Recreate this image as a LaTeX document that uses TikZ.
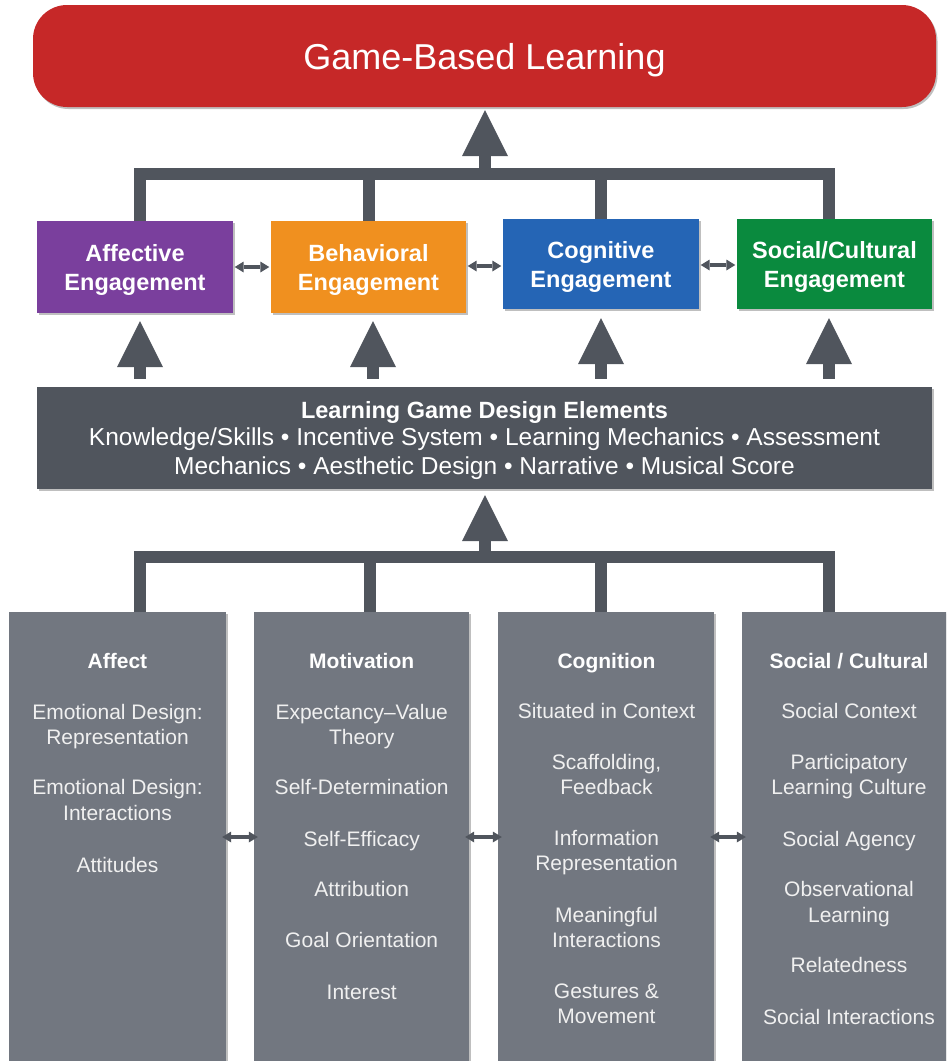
\documentclass[tikz,border=0pt]{standalone}
\usepackage{fontspec}
\setmainfont{Liberation Sans}
\usetikzlibrary{arrows.meta,shadows}
\definecolor{gblred}{HTML}{C62828}
\definecolor{affpurple}{HTML}{7A3F9D}
\definecolor{behorange}{HTML}{F0901F}
\definecolor{cogblue}{HTML}{2565B5}
\definecolor{socgreen}{HTML}{0A8A3E}
\definecolor{darkgray}{HTML}{50555D}
\definecolor{colgray}{HTML}{727780}
\definecolor{lighttxt}{HTML}{F0F0F0}
\begin{document}
\begin{tikzpicture}[x=1pt,y=-1pt,
  shad/.style={drop shadow={shadow xshift=1.5pt,shadow yshift=-2pt,opacity=0.25,fill=black}},
  engbox/.style={shad, minimum width=196pt, minimum height=92pt, inner sep=0pt, align=center, text=white, text depth=0pt, font=\bfseries\fontsize{23.5}{29}\selectfont},
  colbox/.style={shad, fill=colgray, minimum height=463pt, inner sep=0pt},
  conn/.style={draw=darkgray, line width=12pt, line join=miter, line cap=butt},
  uparrow/.style={draw=darkgray, line width=12pt, line cap=butt, -{Triangle[width=46pt,length=46pt,line width=0pt]}},
  dblarrow/.style={draw=darkgray, line width=4pt, {Triangle[width=11pt,length=9pt,line width=0pt]}-{Triangle[width=11pt,length=9pt,line width=0pt]}},
  hdr/.style={anchor=base, text=white, font=\bfseries\fontsize{21}{25}\selectfont, inner sep=0pt},
  itm/.style={anchor=base, text=lighttxt, font=\fontsize{21}{25}\selectfont, inner sep=0pt},
]
\useasboundingbox (0,0) rectangle (946,1061);
\clip (0,0) rectangle (946,1061);

% top box
\node[fill=gblred, rounded corners=34pt, minimum width=903pt, minimum height=102pt, shad, text=white, text depth=0pt, font=\fontsize{36}{40}\selectfont] (gbl) at (484.5,56) {Game-Based Learning};

% engagement boxes
\node[engbox, fill=affpurple] (aff) at (135,267) {Affective\\Engagement};
\node[engbox, fill=behorange, minimum width=195pt] (beh) at (368.5,267) {Behavioral\\Engagement};
\node[engbox, fill=cogblue, minimum height=90pt] (cog) at (601,264) {Cognitive\\Engagement};
\node[engbox, fill=socgreen, minimum width=195pt, minimum height=90pt] (soc) at (834.5,264) {Social/Cultural\\Engagement};

% design elements
\node[shad, fill=darkgray, minimum width=895pt, minimum height=102pt, inner sep=0pt, align=center, text=white, text depth=0pt, font=\fontsize{24.5}{29}\selectfont] (lgde) at (484.5,438)
  {{\bfseries\fontsize{23.5}{27}\selectfont Learning Game Design Elements}\\[-2pt]
   Knowledge/Skills • Incentive System • Learning Mechanics • Assessment\\
   Mechanics • Aesthetic Design • Narrative • Musical Score};

% bottom columns
\node[colbox, minimum width=217pt] (bxaff) at (117.5,843.5) {};
\node[colbox, minimum width=215pt] (bxmot) at (361.5,843.5) {};
\node[colbox, minimum width=216pt] (bxcog) at (606,843.5) {};
\node[colbox, minimum width=216pt] (bxsoc) at (850,843.5) {};

% top bar
\coordinate (tb) at (485,173.5);
\coordinate (affT) at ([xshift=5pt]aff.north);
\coordinate (behT) at ([xshift=0.5pt]beh.north);
\coordinate (cogT) at ([xshift=-0.5pt]cog.north);
\coordinate (socT) at ([xshift=-5.5pt]soc.north);
\draw[conn] (affT) -- (affT |- tb) -- (socT |- tb) -- (socT);
\draw[conn] (behT) -- (behT |- tb);
\draw[conn] (cogT) -- (cogT |- tb);
\draw[uparrow, shorten >=3pt] (tb) -- (tb |- gbl.south);

% arrows from design elements to engagement
\coordinate (affU) at ([xshift=5pt]aff.south);
\coordinate (behU) at ([xshift=4.5pt]beh.south);
\coordinate (cogU) at (cog.south);
\coordinate (socU) at ([xshift=-5.5pt]soc.south);
\draw[uparrow, shorten <=8pt, shorten >=8pt] (affU |- lgde.north) -- (affU);
\draw[uparrow, shorten <=8pt, shorten >=8pt] (behU |- lgde.north) -- (behU);
\draw[uparrow, shorten <=8pt, shorten >=9pt] (cogU |- lgde.north) -- (cogU);
\draw[uparrow, shorten <=8pt, shorten >=9pt] (socU |- lgde.north) -- (socU);

% engagement double arrows
\coordinate (e1) at (aff.east);
\coordinate (e2) at ([yshift=1pt]beh.east);
\coordinate (e3) at ([yshift=-1pt]cog.east);
\draw[dblarrow, shorten <=1.5pt, shorten >=1.5pt] (e1) -- (e1 -| beh.west);
\draw[dblarrow, shorten <=1.5pt, shorten >=1.5pt] (e2) -- (e2 -| cog.west);
\draw[dblarrow, shorten <=1.5pt, shorten >=1.5pt] (e3) -- (e3 -| soc.west);

% bottom bar
\coordinate (bb) at (485,556.5);
\coordinate (baT) at ([xshift=22.5pt]bxaff.north);
\coordinate (bmT) at ([xshift=8.5pt]bxmot.north);
\coordinate (bcT) at ([xshift=-5pt]bxcog.north);
\coordinate (bsT) at ([xshift=-21pt]bxsoc.north);
\draw[conn] (baT) -- (baT |- bb) -- (bsT |- bb) -- (bsT);
\draw[conn] (bmT) -- (bmT |- bb);
\draw[conn] (bcT) -- (bcT |- bb);
\draw[uparrow, shorten >=6pt] (bb) -- (bb |- lgde.south);

% bottom double arrows
\coordinate (d1) at ([yshift=6.5pt]bxaff.east);
\coordinate (d2) at ([yshift=6.5pt]bxmot.east);
\coordinate (d3) at ([yshift=6.5pt]bxcog.east);
\draw[dblarrow, shorten <=-4pt, shorten >=-4pt] (d1) -- (d1 -| bxmot.west);
\draw[dblarrow, shorten <=-4pt, shorten >=-4pt] (d2) -- (d2 -| bxcog.west);
\draw[dblarrow, shorten <=-4pt, shorten >=-4pt] (d3) -- (d3 -| bxsoc.west);

% column texts
\node[hdr] (haff) at (117.5,668) {Affect};
\node[hdr] (hmot) at (361.7,668) {Motivation};
\node[hdr] (hcog) at (606.5,668) {Cognition};
\node[hdr] (hsoc) at (849,668) {Social / Cultural};

\foreach \yy/\tx [count=\i] in {719/{Emotional Design:},744/Representation,794/{Emotional Design:},820/Interactions,872/Attitudes}
  \node[itm] (ia\i) at (117.5,\yy) {\tx};
\foreach \yy/\tx [count=\i] in {719/Expectancy–Value,744/Theory,794/Self-Determination,846/Self-Efficacy,896/Attribution,947/Goal Orientation,999/Interest}
  \node[itm] (im\i) at (361.7,\yy) {\tx};
\foreach \yy/\tx [count=\i] in {718/Situated in Context,769/{Scaffolding,},794/Feedback,845/Information,870/Representation,922/Meaningful,947/Interactions,998/Gestures \&,1023/Movement}
  \node[itm] (ic\i) at (606.5,\yy) {\tx};
\foreach \yy/\tx [count=\i] in {718/Social Context,769/Participatory,794/Learning Culture,846/Social Agency,896/Observational,922/Learning,972/Relatedness,1024/Social Interactions}
  \node[itm] (is\i) at (849,\yy) {\tx};
\end{tikzpicture}
\end{document}
